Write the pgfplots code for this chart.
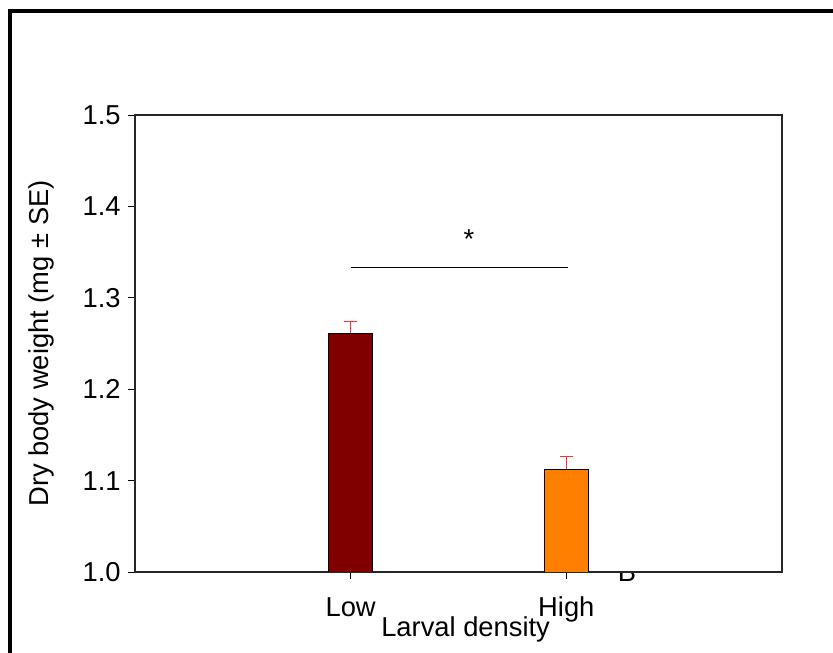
\documentclass[border=0pt]{standalone}
\usepackage{fontspec}
\setmainfont{Liberation Sans}
\usepackage{pgfplots}
\pgfplotsset{compat=1.18}
\definecolor{lowc}{HTML}{800000}
\definecolor{highc}{HTML}{FF8000}
\definecolor{errc}{HTML}{FF3030}
\newcommand{\ff}{\fontsize{20.5}{24}\selectfont}
\begin{document}
\begin{tikzpicture}[x=1pt,y=1pt]
\useasboundingbox (-101.25,-60.75) rectangle (523.5,429);
\draw[line width=3pt, line join=miter] (-93.4,-62) -- (-93.4,420.75) -- (525,420.75);
\begin{axis}[
  at={(0,0)}, anchor=south west,
  width=485.25pt, height=342.75pt, scale only axis,
  xmin=0, xmax=3, ymin=1, ymax=1.5,
  xtick={1,2}, xticklabels={Low,High},
  ytick={1.0,1.1,1.2,1.3,1.4,1.5},
  tick align=outside, xtick pos=bottom, ytick pos=left,
  major tick length=5.25pt,
  tick style={black, line width=0.6pt},
  axis line style={line width=0.8pt, black!85},
  ticklabel style={font=\ff},
  label style={font=\ff},
  /pgf/number format/.cd, fixed, fixed zerofill, precision=1, assume math mode=true,
  /pgfplots/.cd,
  yticklabel style={xshift=-2pt},
  xticklabel style={anchor=base, yshift=-28pt},
  xlabel={Larval density},
  xlabel style={at={(axis description cs:0.511,0)}, anchor=base, yshift=-48.75pt},
  ylabel={Dry body weight (mg ± SE)},
  ylabel style={at={(axis description cs:-0.145,0.5)}, anchor=center},
]
\addplot[ybar, bar width=33pt, bar shift=0pt, fill=lowc, draw=black, line width=0.6pt,
  error bars/.cd, y dir=plus, y explicit,
  error bar style={color=errc, line width=0.6pt},
  error mark options={rotate=90, mark size=4.9pt, errc, line width=0.6pt}]
  coordinates {(1,1.2615) +- (0,0.0124)};
\addplot[ybar, bar width=33pt, bar shift=0pt, fill=highc, draw=black, line width=0.6pt,
  error bars/.cd, y dir=plus, y explicit,
  error bar style={color=errc, line width=0.6pt},
  error mark options={rotate=90, mark size=4.9pt, errc, line width=0.6pt}]
  coordinates {(2,1.1127) +- (0,0.0139)};
\addplot[black, line width=0.8pt] coordinates {(1,1.333) (2.01,1.333)};
\node[anchor=base, font=\ff] at (axis cs:1.549,1.354) {*};
\end{axis}
\begin{scope}
\clip (300,-1) rectangle (420,-40);
\node[anchor=base, font=\ff, inner sep=0pt] at (369,-7.5) {B};
\end{scope}
\end{tikzpicture}
\end{document}
